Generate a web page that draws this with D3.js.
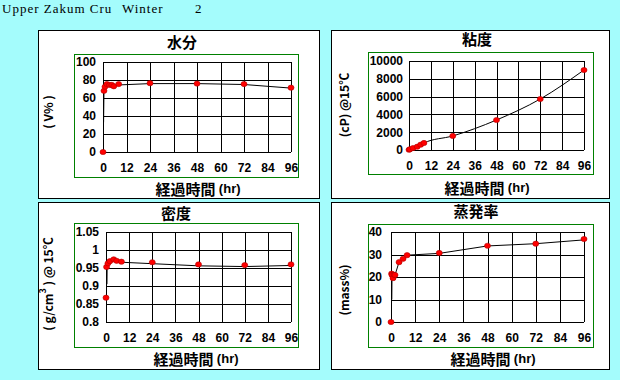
<!DOCTYPE html>
<html>
<head>
<meta charset="utf-8">
<script src="https://cdn.jsdelivr.net/npm/d3@7"></script>
<style>
  body { margin: 0; background: #a4fcfc; }
  svg text { fill: #000; }
  .tick text { font-family: "Liberation Sans", Arial, sans-serif; font-weight: bold; font-size: 12px; }
  .jp { font-family: "Noto Sans CJK JP", sans-serif; font-weight: bold; }
</style>
</head>
<body>
<svg id="chart" width="620" height="380"></svg>
<script>
// hours on x axis
var xTicks = [0, 12, 24, 36, 48, 60, 72, 84, 96];

// 水分 (V%)
var waterTime = [0, 0.5, 1, 2, 3.3, 4.5, 5.5, 8, 24, 48, 72, 96];
var waterValue = [0, 68, 72.5, 75.5, 74.5, 74.5, 73, 75.5, 76.5, 76, 75.5, 71.5];
var waterLineTime = [0.3, 0.5, 1, 2, 3.3, 4.5, 5.5, 8, 24, 48, 72, 96];
var waterLineValue = [33, 68, 72.5, 75.5, 74.5, 74.5, 73, 74.5, 76, 76, 75, 71];
var waterTicks = [0, 20, 40, 60, 80, 100];

// 粘度 (cP)
var viscTime = [0, 0.5, 2.2, 4.5, 6.4, 8.2, 24, 48, 72, 96];
var viscValue = [30, 80, 220, 370, 600, 790, 1580, 3370, 5730, 8990];
var viscTicks = [0, 2000, 4000, 6000, 8000, 10000];

// 密度 (g/cm3)
var densTime = [0, 0.3, 1, 2, 4, 5.5, 8, 24, 48, 72, 96];
var densValue = [0.8675, 0.953, 0.963, 0.969, 0.974, 0.970, 0.9675, 0.966, 0.960, 0.958, 0.960];
var densLineTime = [0.5, 0.6, 1, 2, 4, 5.5, 8, 24, 48, 72, 96];
var densLineValue = [0.905, 0.953, 0.963, 0.969, 0.973, 0.969, 0.966, 0.962, 0.956, 0.954, 0.957];
var densTicks = [0.8, 0.85, 0.9, 0.95, 1, 1.05];

// 蒸発率 (mass%)
var evapTime = [0, 0.3, 0.5, 1, 1.5, 2, 4, 6, 8, 24, 48, 72, 96];
var evapValue = [0, 21.5, 20.9, 19.5, 21, 20.9, 26.6, 28.1, 29.7, 30.7, 33.9, 34.8, 36.9];
var evapLineTime = [0.4, 0.5, 1, 2, 4, 6, 8, 24, 48, 72, 96];
var evapLineValue = [10, 20.9, 19.5, 20.9, 26.6, 28.1, 29.7, 30.5, 33.8, 34.8, 36.5];
var evapTicks = [0, 10, 20, 30, 40];

var svg = d3.select("#chart");

// header
var head = svg.append("g").style("font-family", "'Liberation Serif', 'Times New Roman', serif")
    .style("font-size", "13px").style("letter-spacing", "1px");
head.append("text").attr("x", 2).attr("y", 13).text("Upper Zakum Cru");
head.append("text").attr("x", 122).attr("y", 13).text("Winter");
head.append("text").attr("x", 195).attr("y", 13).text("2");

function drawPanel(p) {
    var g = svg.append("g");
    g.append("rect")
        .attr("x", p.box[0] + 0.5).attr("y", p.box[1] + 0.5)
        .attr("width", p.box[2] - p.box[0]).attr("height", p.box[3] - p.box[1])
        .attr("fill", "#fff").attr("stroke", "#000");
    g.append("rect")
        .attr("x", p.inner[0] + 0.5).attr("y", p.inner[1] + 0.5)
        .attr("width", p.inner[2] - p.inner[0]).attr("height", p.inner[3] - p.inner[1])
        .attr("fill", "none").attr("stroke", "#008000");

    var x = d3.scaleLinear().domain([0, 96]).range(p.xr);
    var y = d3.scaleLinear().domain(p.yd).range(p.yr);

    // grid
    g.selectAll(".vg").data(xTicks).enter().append("line")
        .attr("x1", function(d) { return Math.round(x(d)) + 0.5 })
        .attr("x2", function(d) { return Math.round(x(d)) + 0.5 })
        .attr("y1", p.yr[0]).attr("y2", p.yr[1])
        .attr("stroke", "#000");
    g.selectAll(".hg").data(p.yticks).enter().append("line")
        .attr("y1", function(d) { return Math.round(y(d)) + 0.5 })
        .attr("y2", function(d) { return Math.round(y(d)) + 0.5 })
        .attr("x1", p.xr[0]).attr("x2", p.xr[1])
        .attr("stroke", "#000");

    var xAxis = g.append("g")
        .attr("transform", "translate(0," + (p.yr[0] + 6) + ")")
        .call(d3.axisBottom(x).tickValues(xTicks).tickSize(0).tickPadding(5));
    xAxis.select(".domain").remove();

    var yAxis = g.append("g")
        .attr("transform", "translate(" + (p.xr[0] - p.ypad) + ",0)")
        .call(d3.axisLeft(y).tickValues(p.yticks).tickSize(0).tickPadding(0)
            .tickFormat(function(d) { return String(+d.toFixed(2)) }));
    yAxis.select(".domain").remove();

    // line
    var line = d3.line()
        .x(function(d) { return x(d[0]) })
        .y(function(d) { return y(d[1]) })
        .curve(p.curve || d3.curveLinear);
    g.append("path")
        .datum(d3.zip(p.lt, p.lv))
        .attr("d", line)
        .attr("fill", "none").attr("stroke", "#000").attr("stroke-width", 1);

    g.selectAll(".dot").data(d3.zip(p.t, p.v)).enter().append("ellipse")
        .attr("cx", function(d) { return x(d[0]) })
        .attr("cy", function(d) { return y(d[1]) })
        .attr("rx", 3).attr("ry", 2.6)
        .attr("fill", "#ff0000").attr("stroke", "#b00000").attr("stroke-width", 0.6);

    g.append("text").attr("class", "jp")
        .attr("x", p.title[1]).attr("y", p.title[2])
        .attr("text-anchor", "middle").attr("dominant-baseline", "central")
        .style("font-size", "15px").text(p.title[0]);
    var xl = g.append("text").attr("class", "jp")
        .attr("x", p.xlab[0]).attr("y", p.xlab[1])
        .attr("text-anchor", "middle").attr("dominant-baseline", "central")
        .style("font-size", "15px");
    xl.append("tspan").text("経過時間 ");
    xl.append("tspan").style("font-size", "13px").style("font-family", "'Liberation Sans', sans-serif").text("(hr)");

    var yl = g.append("text").attr("class", "jp")
        .attr("transform", "translate(" + p.ylab[1] + "," + p.ylab[2] + ") rotate(-90)")
        .attr("text-anchor", "middle").attr("dominant-baseline", "central")
        .style("font-size", "12px");
    p.ylab[0].forEach(function(s) {
        var ts = yl.append("tspan").text(s.t);
        if (s.sup) ts.attr("dy", -5).style("font-size", "9px");
        if (s.after) ts.attr("dy", 5);
    });
}

drawPanel({
    box: [38, 30, 319, 198], inner: [74, 54, 298, 177],
    xr: [103, 291], yr: [152, 62], yd: [0, 100], yticks: waterTicks, ypad: 7,
    t: waterTime, v: waterValue, lt: waterLineTime, lv: waterLineValue,
    title: ["水分", 182, 41], xlab: [198, 188],
    ylab: [[{t: "( V% )"}], 47, 112]
});
drawPanel({
    box: [331, 30, 609, 198], inner: [368, 52, 593, 174],
    xr: [409, 584], yr: [150, 61], yd: [0, 10000], yticks: viscTicks, ypad: 6,
    t: viscTime, v: viscValue, lt: viscTime, lv: viscValue, curve: d3.curveMonotoneX,
    title: ["粘度", 477, 38], xlab: [487, 187],
    ylab: [[{t: "(cP) @15℃"}], 343, 105]
});
drawPanel({
    box: [38, 202, 319, 369], inner: [74, 223, 298, 347],
    xr: [106, 291], yr: [322, 232], yd: [0.8, 1.05], yticks: densTicks, ypad: 7,
    t: densTime, v: densValue, lt: densLineTime, lv: densLineValue,
    title: ["密度", 176, 212], xlab: [196, 358],
    ylab: [[{t: "( g/cm"}, {t: "3", sup: true}, {t: " ) @ 15℃", after: true}], 47, 284]
});
drawPanel({
    box: [331, 202, 609, 369], inner: [368, 224, 593, 347],
    xr: [391, 584], yr: [322, 232], yd: [0, 40], yticks: evapTicks, ypad: 9,
    t: evapTime, v: evapValue, lt: evapLineTime, lv: evapLineValue,
    title: ["蒸発率", 476, 210], xlab: [493, 358],
    ylab: [[{t: "(mass%)"}], 343, 290]
});
</script>
</body>
</html>
